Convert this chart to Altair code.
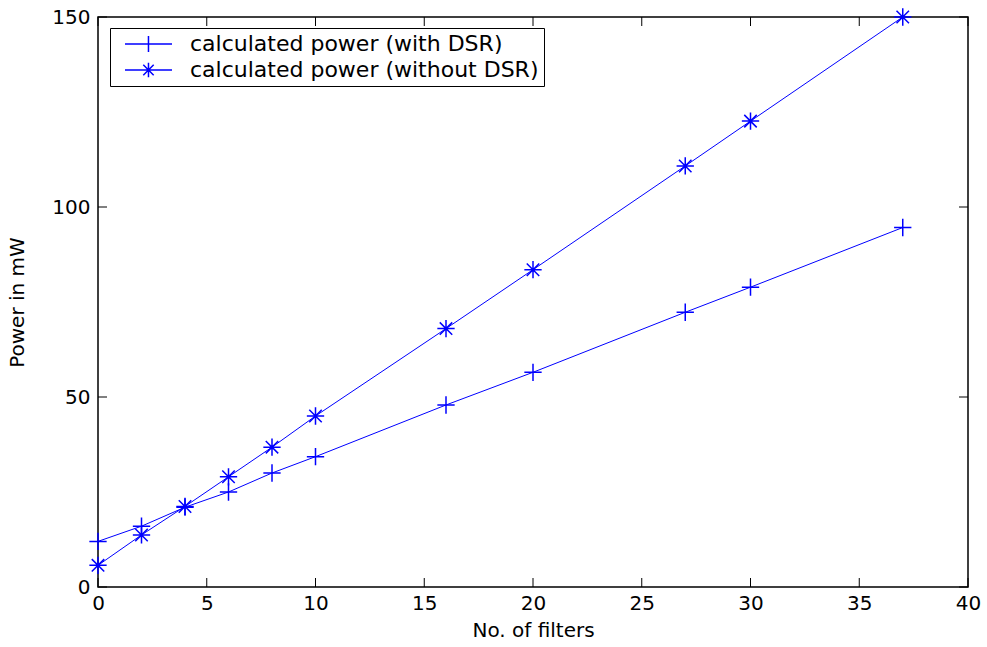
import altair as alt
import pandas as pd

# ---- data ----
filters = [0, 2, 4, 6, 8, 10, 16, 20, 27, 30, 37]
power_with_dsr = [12.0, 16.0, 21.0, 25.0, 30.0, 34.3, 47.9, 56.5, 72.3, 78.9, 94.6]
power_without_dsr = [5.7, 13.7, 21.2, 29.0, 36.8, 45.0, 68.0, 83.5, 110.8, 122.6, 150.0]
series_names = ["calculated power (with DSR)", "calculated power (without DSR)"]
x_ticks = [0, 5, 10, 15, 20, 25, 30, 35, 40]
y_ticks = [0, 50, 100, 150]

rows = []
for name, vals in zip(series_names, [power_with_dsr, power_without_dsr]):
    for f, v in zip(filters, vals):
        rows.append({"filters": f, "power": v, "series": name})
df = pd.DataFrame(rows)

W, H = 870, 570
BLUE = "#0000FF"
FONT = "DejaVu Sans"

PLUS = "M-1,0H1M0,-1V1"
STAR = "M-1,0H1M0,-1V1M-0.72,-0.72L0.72,0.72M-0.72,0.72L0.72,-0.72"
# legend symbols: a line segment with the marker in its middle
PLUS_LEG = "M-0.125,0H5.75M2.81,-1V1"
STAR_LEG = ("M-0.125,0H5.75M2.81,-0.9V0.9M2.16,-0.65L3.46,0.65"
            "M2.16,0.65L3.46,-0.65")

xs = alt.Scale(domain=[0, 40], nice=False, zero=False)
ys = alt.Scale(domain=[0, 150], nice=False, zero=False)

x_main = alt.X(
    "filters:Q", scale=xs,
    axis=alt.Axis(values=x_ticks, title="No. of filters", grid=False, ticks=False, tickSize=0,
                  domain=False, labelFont=FONT, labelFontSize=20, labelColor="black",
                  labelPadding=6, titleFont=FONT, titleFontSize=20, titleFontWeight="normal",
                  titleColor="black", titlePadding=7, labelFlush=False),
)
y_main = alt.Y(
    "power:Q", scale=ys,
    axis=alt.Axis(values=y_ticks, title="Power in mW", grid=False, ticks=False, tickSize=0,
                  domain=False, labelFont=FONT, labelFontSize=20, labelColor="black",
                  labelPadding=8, titleFont=FONT, titleFontSize=20, titleFontWeight="normal",
                  titleColor="black", titlePadding=24, labelFlush=False),
)

lines = alt.Chart(df).mark_line(color=BLUE, strokeWidth=1).encode(
    x=x_main, y=y_main, detail="series:N", order="filters:Q"
)

points = alt.Chart(df).mark_point(
    filled=False, color=BLUE, strokeWidth=1.5, size=300, opacity=1
).encode(
    x=alt.X("filters:Q", scale=xs),
    y=alt.Y("power:Q", scale=ys),
    shape=alt.Shape("series:N", scale=alt.Scale(domain=series_names, range=[PLUS, STAR]), legend=None),
)

legend_carrier = alt.Chart(df).mark_point(
    filled=False, color=BLUE, strokeWidth=1.5, size=256, opacity=0
).encode(
    x=alt.X("filters:Q", scale=xs),
    y=alt.Y("power:Q", scale=ys),
    shape=alt.Shape(
        "series:N",
        scale=alt.Scale(domain=series_names, range=[PLUS_LEG, STAR_LEG]),
        legend=alt.Legend(
            title=None, orient="none", legendX=12, legendY=11,
            labelFont=FONT, labelFontSize=22, labelColor="black", labelLimit=0,
            symbolSize=256, symbolStrokeColor=BLUE, symbolStrokeWidth=1.5,
            symbolOpacity=1, symbolFillColor="transparent",
            strokeColor="black", fillColor="white", padding=5,
            labelOffset=53, rowPadding=4,
        ),
    ),
)

xt = pd.DataFrame({"t": x_ticks})
yt = pd.DataFrame({"t": y_ticks})
tick_bottom = alt.Chart(xt).mark_rule(color="black", strokeWidth=1).encode(
    x=alt.X("t:Q", scale=xs), y=alt.value(H), y2=alt.value(H - 9))
tick_top = alt.Chart(xt).mark_rule(color="black", strokeWidth=1).encode(
    x=alt.X("t:Q", scale=xs), y=alt.value(0), y2=alt.value(9))
tick_left = alt.Chart(yt).mark_rule(color="black", strokeWidth=1).encode(
    y=alt.Y("t:Q", scale=ys), x=alt.value(0), x2=alt.value(9))
tick_right = alt.Chart(yt).mark_rule(color="black", strokeWidth=1).encode(
    y=alt.Y("t:Q", scale=ys), x=alt.value(W), x2=alt.value(W - 9))

chart = alt.layer(
    lines, points, legend_carrier, tick_bottom, tick_top, tick_left, tick_right
).resolve_scale(shape="independent").properties(
    width=W, height=H,
    autosize=alt.AutoSizeParams(type="none"),
    padding={"left": 98, "top": 17, "right": 19, "bottom": 60},
    background="white",
).configure_view(stroke="black", strokeWidth=1.5)

chart.save("out.html", embed_options={"renderer": "svg", "actions": False})
